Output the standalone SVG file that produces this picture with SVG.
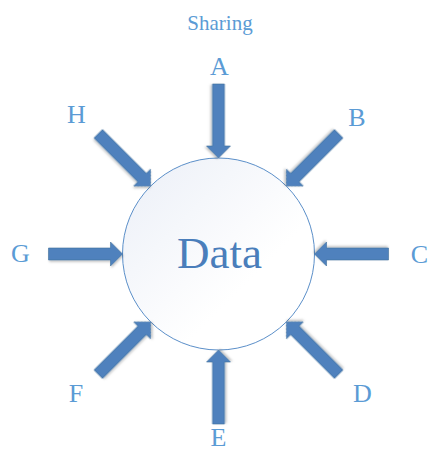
<svg xmlns="http://www.w3.org/2000/svg" xmlns:xlink="http://www.w3.org/1999/xlink" width="429" height="453" viewBox="0 0 429 453">
  <style>
    .lbl { font-family: "Liberation Serif", "Times New Roman", serif; font-size: 26px; fill: #5B9BD5; text-anchor: middle; }
    .title { font-family: "Liberation Serif", "Times New Roman", serif; font-size: 21px; fill: #5B9BD5; text-anchor: middle; }
    .main { font-family: "Liberation Serif", "Times New Roman", serif; font-size: 45px; fill: #4A7EBB; text-anchor: middle; }
    .arrow { fill: #4F81BD; stroke: #41719C; stroke-width: 0.6; filter: url(#sh); }
  </style>
  <defs>
    <linearGradient id="cg" x1="0" y1="0" x2="1" y2="1">
      <stop offset="0" stop-color="#EBEFF7"/>
      <stop offset="0.65" stop-color="#FFFFFF"/>
      <stop offset="1" stop-color="#FFFFFF"/>
    </linearGradient>
    <filter id="sh" x="-20%" y="-20%" width="140%" height="140%">
      <feDropShadow dx="1" dy="1.5" stdDeviation="1" flood-color="#000" flood-opacity="0.25"/>
    </filter>
    <path id="arr" d="M-74,-6 H-12 V-12 L0,0 L-12,12 V6 H-74 Z"/>
  </defs>
  <rect width="429" height="453" fill="#FFFFFF"/>

  <g id="data">
    <circle cx="218.5" cy="254" r="96" fill="url(#cg)" stroke="#5B8FC9" stroke-width="1"/>
    <text class="main" x="219.5" y="268">Data</text>
  </g>

  <g id="title"><text class="title" x="220" y="30">Sharing</text></g>

  <g id="connectors">
    <use href="#arr" class="arrow" transform="translate(218.5,158) rotate(90)"/>
    <use href="#arr" class="arrow" transform="translate(286.4,186.1) rotate(135)"/>
    <use href="#arr" class="arrow" transform="translate(314.5,254) rotate(180)"/>
    <use href="#arr" class="arrow" transform="translate(286.4,321.9) rotate(-135)"/>
    <use href="#arr" class="arrow" transform="translate(218.5,350) rotate(-90)"/>
    <use href="#arr" class="arrow" transform="translate(150.6,321.9) rotate(-45)"/>
    <use href="#arr" class="arrow" transform="translate(122.5,254) rotate(0)"/>
    <use href="#arr" class="arrow" transform="translate(150.6,186.1) rotate(45)"/>
  </g>

  <g id="node-A"><text class="lbl" x="219.5" y="75">A</text></g>
  <g id="node-B"><text class="lbl" x="357" y="126">B</text></g>
  <g id="node-C"><text class="lbl" x="419.5" y="263">C</text></g>
  <g id="node-D"><text class="lbl" x="362.5" y="402">D</text></g>
  <g id="node-E"><text class="lbl" x="218.5" y="446">E</text></g>
  <g id="node-F"><text class="lbl" x="76" y="402">F</text></g>
  <g id="node-G"><text class="lbl" x="20.5" y="262">G</text></g>
  <g id="node-H"><text class="lbl" x="76.5" y="123">H</text></g>
</svg>
